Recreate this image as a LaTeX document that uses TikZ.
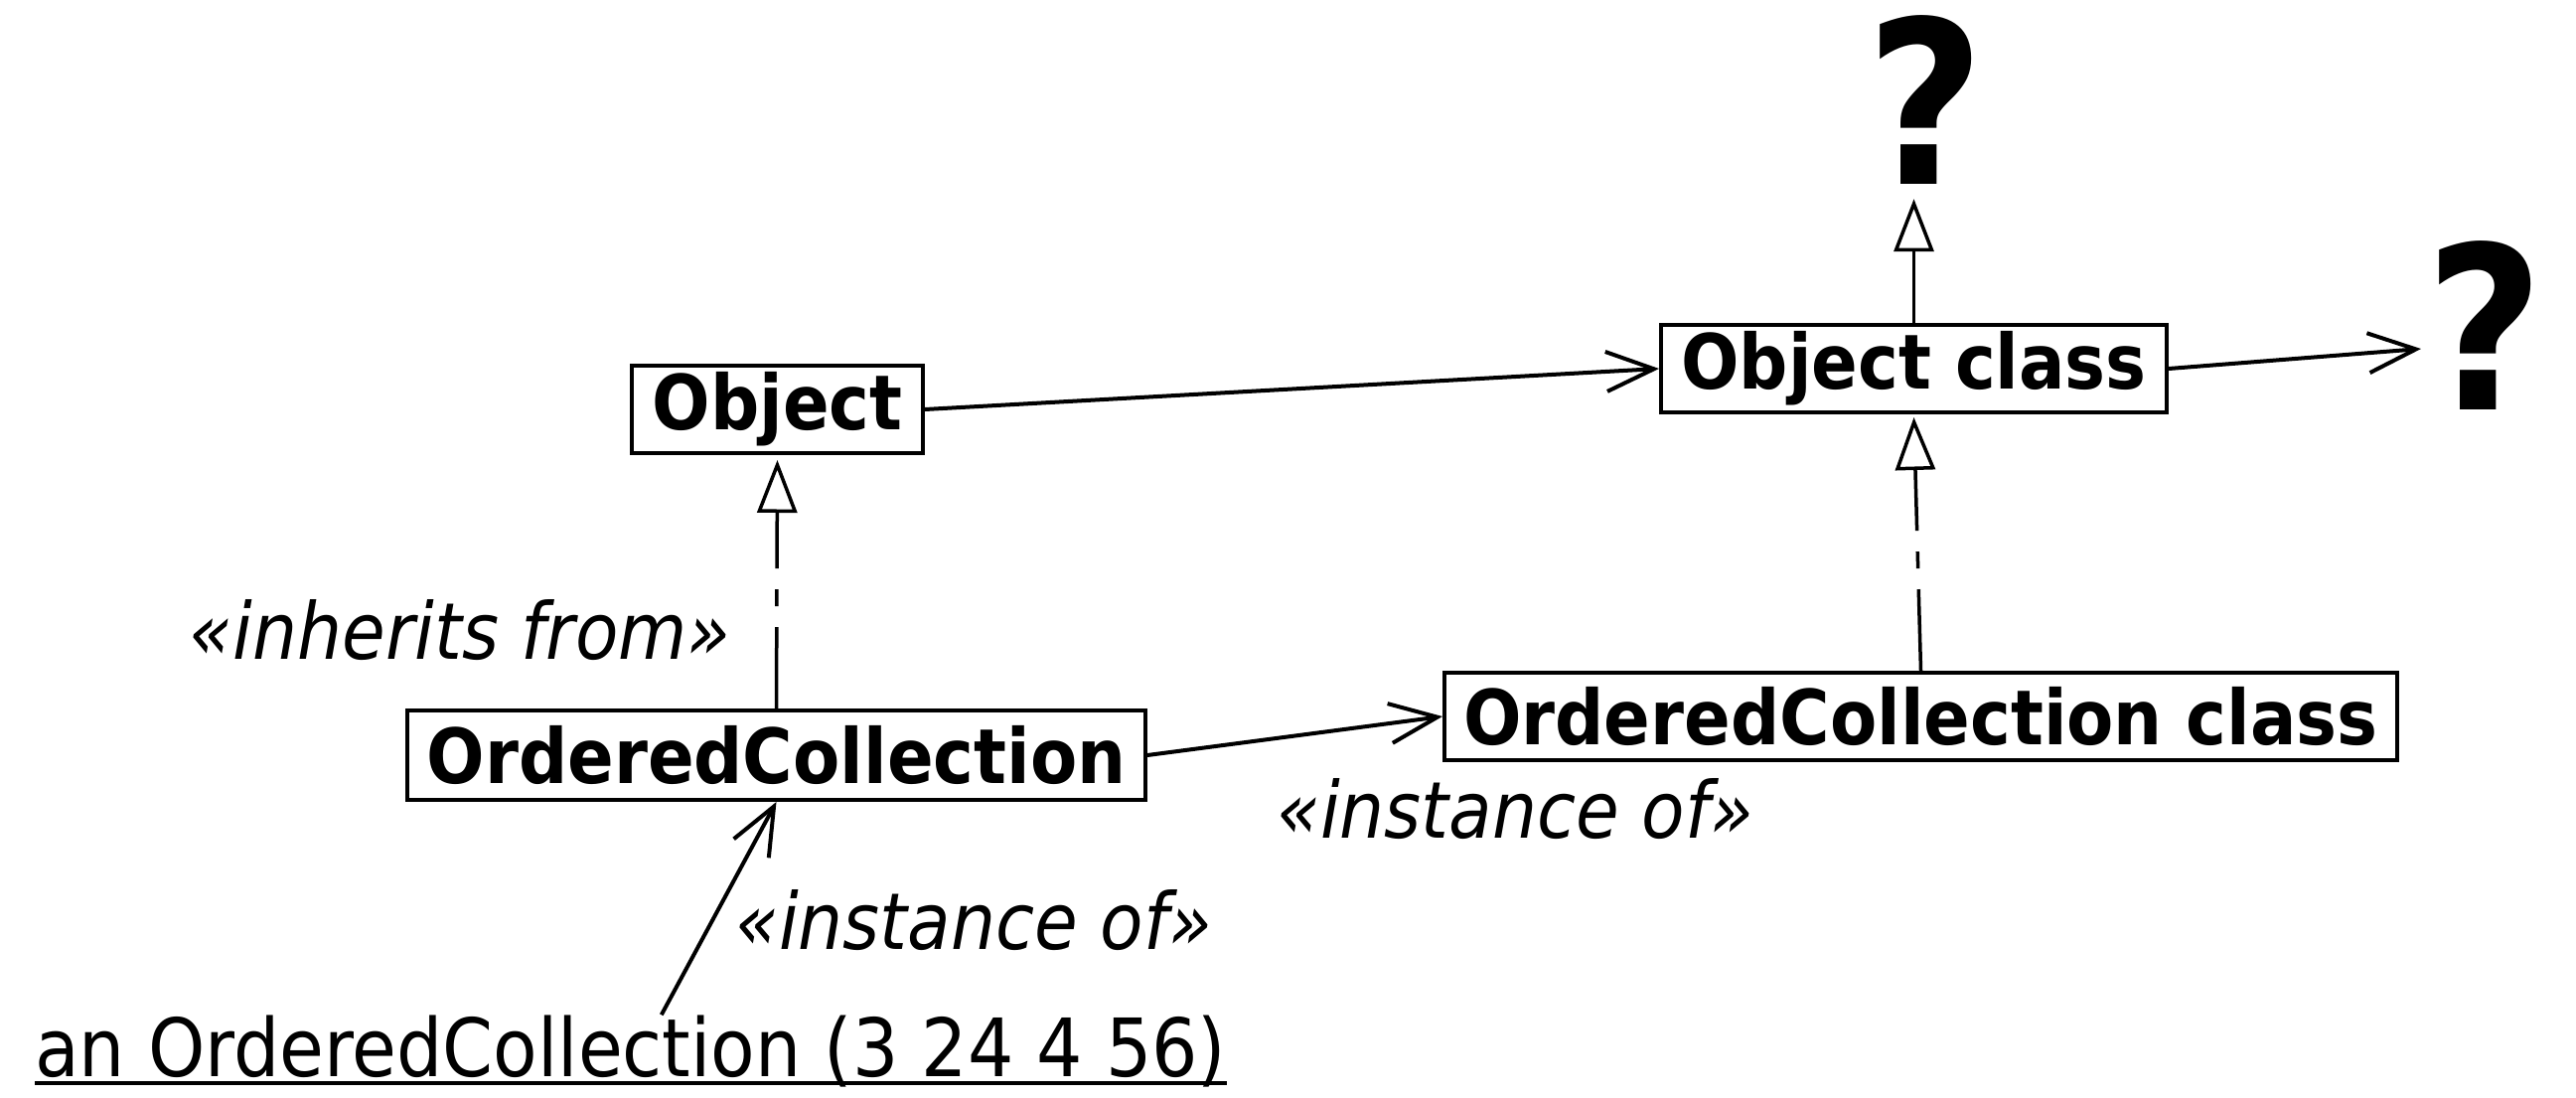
\documentclass[tikz,border=0pt]{standalone}
\usepackage{fontspec}
\setmainfont{DejaVu Sans}[FakeStretch=0.9]
\usetikzlibrary{arrows.meta,calc}
\begin{document}
\begin{tikzpicture}[x=1pt,y=-1pt,
  box/.style={draw, line width=4pt, inner sep=0pt, font=\fontsize{76.5}{80}\selectfont\bfseries},
  conn/.style={line width=4pt, -{Straight Barb[length=48pt,width=40pt]}},
  inh/.style={line width=3.5pt, -{Triangle[open,length=53pt,width=40pt,fill=white,line width=3.5pt]},
     dash pattern=on 82pt off 21pt on 17pt off 21pt on 400pt off 1pt},
  lbl/.style={inner sep=0pt, font=\fontsize{79}{80}\selectfont\itshape},
  qm/.style={inner sep=0pt, font=\fontsize{229}{230}\selectfont\bfseries}]
\useasboundingbox (0,0) rectangle (2593,1105);

\node[box, minimum width=293pt, minimum height=88pt] (obj) at (782.5,412) {Object};
\node[box, minimum width=509pt, minimum height=88pt] (objc) at (1926.5,371) {Object class};
\node[box, minimum width=743pt, minimum height=90pt] (oc) at (781.5,760) {OrderedCollection};
\node[box, minimum width=959pt, minimum height=88pt] (occ) at (1933.5,721) {OrderedCollection class};

\node[qm, anchor=base] (q1) at (1938,185) {?};
\node[qm, anchor=base] (q2) at (2501,412) {?};

\node[lbl, anchor=base east] (linh) at (736,663) {«inherits from»};
\node[lbl, anchor=base west] (linst1) at (740,955) {«instance of»};
\node[lbl, anchor=base west] (linst2) at (1285,843) {«instance of»};
\node[inner sep=0pt, anchor=base west, font=\fontsize{81}{80}\selectfont] (inst) at (35,1083) {an OrderedCollection (3 24 4 56)};
\draw[line width=4pt] ($(inst.base west)+(0,7)$) -- ($(inst.base east)+(0,7)$);

\draw[conn] (obj.east) -- (objc.west);
\draw[conn] (objc.east) -- ($(q2.west)+(-4,24)$);
\draw[conn] (oc.east) -- (occ.west);
\draw[conn] ($(inst.north)+(31,0)$) -- (oc.south);

\draw[inh, shorten >=5pt] (oc.north) -- (obj.south);
\draw[inh] (occ.north) -- ([yshift=-3pt]objc.south);
\draw[inh] (objc.north) -- ([yshift=-15pt]objc.north |- q1.south);
\end{tikzpicture}
\end{document}
